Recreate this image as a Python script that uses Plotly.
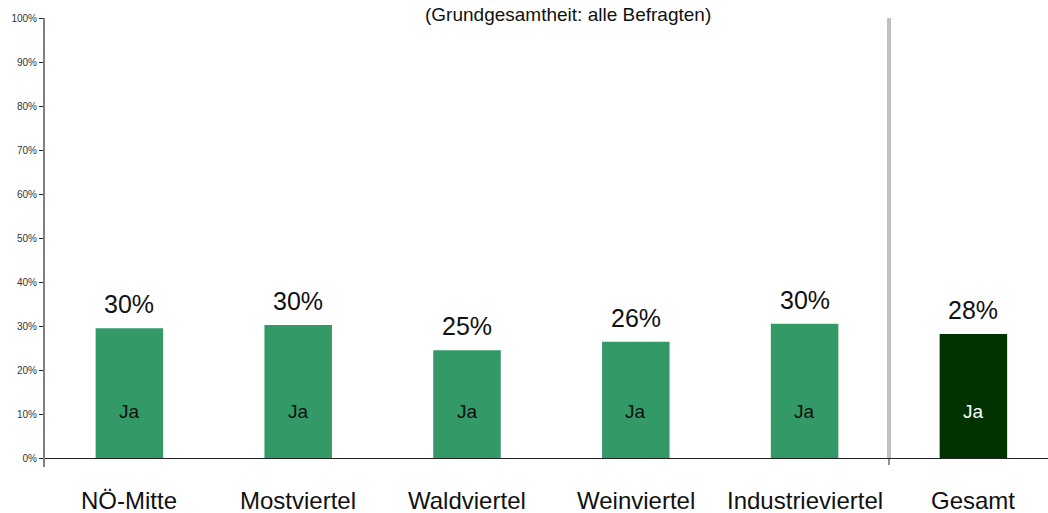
import plotly.graph_objects as go

categories = ["NÖ-Mitte", "Mostviertel", "Waldviertel", "Weinviertel", "Industrieviertel", "Gesamt"]
values = [29.5, 30.2, 24.5, 26.4, 30.5, 28.2]
value_labels = ["30%", "30%", "25%", "26%", "30%", "28%"]
inner_labels = ["Ja", "Ja", "Ja", "Ja", "Ja", "Ja"]
bar_colors = ["#339966", "#339966", "#339966", "#339966", "#339966", "#003300"]
inner_colors = ["#111111", "#111111", "#111111", "#111111", "#111111", "#ffffff"]
ytick_vals = [0, 10, 20, 30, 40, 50, 60, 70, 80, 90, 100]
ytick_text = [f"{v}%" for v in ytick_vals]
title_text = "(Grundgesamtheit: alle Befragten)"

FONT = "Liberation Sans, Arial, sans-serif"
xs = list(range(len(categories)))
x_range = [-0.5, -0.5 + 1003 / 168.8]
sep_paper = (4.5 - x_range[0]) / (x_range[1] - x_range[0])

fig = go.Figure()
fig.add_trace(go.Bar(x=xs, y=values, width=0.40, marker=dict(color=bar_colors, line=dict(width=0)),
                     hoverinfo="skip"))

annotations = []
for i, (v, lab, inner, ic, cat) in enumerate(zip(values, value_labels, inner_labels, inner_colors, categories)):
    annotations.append(dict(x=i, y=v, xref="x", yref="y", text=lab, showarrow=False,
                            yanchor="bottom", yshift=8, font=dict(family=FONT, size=25, color="#111111")))
    annotations.append(dict(x=i, y=10.5, xref="x", yref="y", text=inner, showarrow=False,
                            yanchor="middle", font=dict(family=FONT, size=19, color=ic)))
    annotations.append(dict(x=i, y=-42 / 440, xref="x", yref="paper", text=cat, showarrow=False,
                            yanchor="middle", font=dict(family=FONT, size=24, color="#111111")))
annotations.append(dict(x=(568 - 45) / (1048 - 45), y=1.0, xref="paper", yref="paper", text=title_text,
                        showarrow=False, yanchor="middle", yshift=4,
                        font=dict(family=FONT, size=19, color="#111111")))

shapes = [
    dict(type="line", xref="x", yref="y", x0=4.5, x1=4.5, y0=0, y1=100,
         line=dict(color="#c0c0c0", width=4), layer="below"),
    dict(type="line", xref="paper", yref="paper", x0=sep_paper, x1=sep_paper, y0=0, y1=-7 / 440,
         line=dict(color="#222222", width=1)),
    dict(type="line", xref="paper", yref="paper", x0=-1 / 1003, x1=-1 / 1003, y0=0, y1=-9 / 440,
         line=dict(color="#808080", width=2)),
]

fig.update_layout(
    width=1048, height=513,
    margin=dict(l=45, r=0, t=18, b=55),
    paper_bgcolor="white", plot_bgcolor="white",
    showlegend=False,
    annotations=annotations,
    shapes=shapes,
    xaxis=dict(range=x_range, showgrid=False, zeroline=False,
               showline=False, showticklabels=False, ticks="", fixedrange=True),
    yaxis=dict(range=[0, 100], showgrid=False, zeroline=True, zerolinecolor="#222222", zerolinewidth=1,
               showline=True, linecolor="#808080", linewidth=2,
               ticks="outside", ticklen=4, tickcolor="#222222", tickwidth=1,
               tickvals=ytick_vals, ticktext=ytick_text,
               tickfont=dict(family=FONT, size=10, color="#333333")),
)

fig.write_html("out.html", config={"displayModeBar": False},
               post_script="document.body.style.margin='0';document.body.style.overflow='hidden';")
